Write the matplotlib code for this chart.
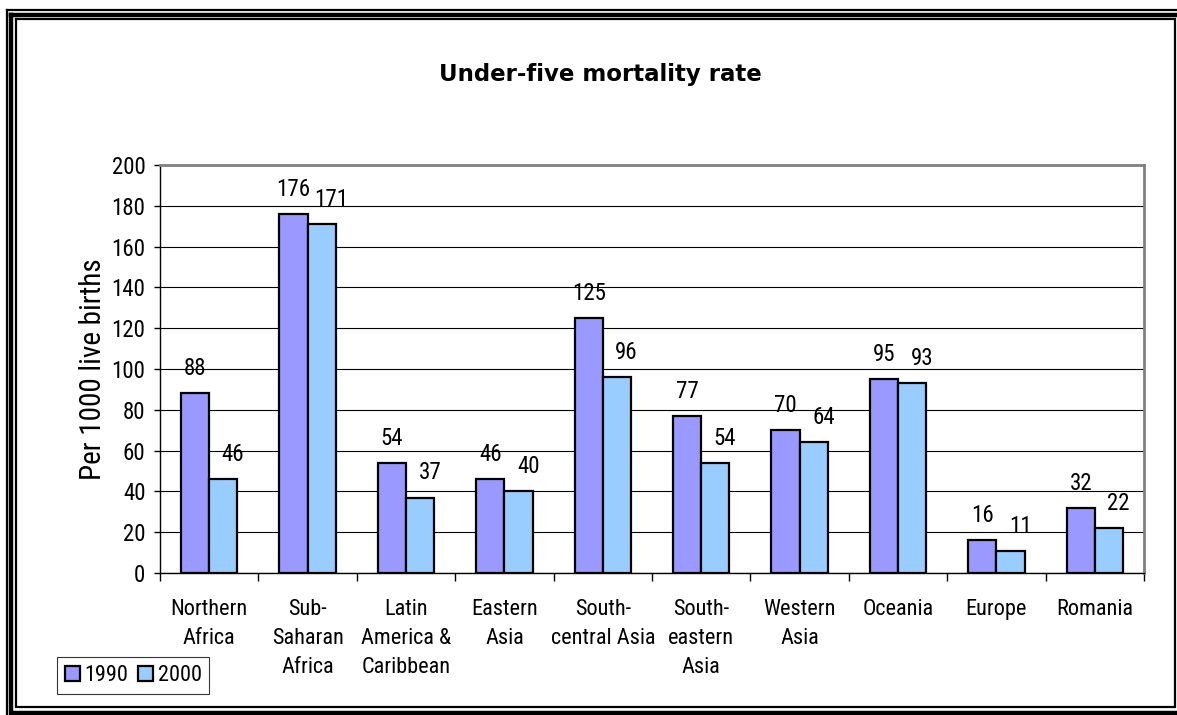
import matplotlib.pyplot as plt
from matplotlib import font_manager
from matplotlib.lines import Line2D
from matplotlib.patches import Patch
import numpy as np

regions = ["Northern\nAfrica", "Sub-\nSaharan\nAfrica", "Latin\nAmerica &\nCaribbean",
           "Eastern\nAsia", "South-\ncentral Asia", "South-\neastern\nAsia",
           "Western\nAsia", "Oceania", "Europe", "Romania"]
rate_1990 = [88, 176, 54, 46, 125, 77, 70, 95, 16, 32]
rate_2000 = [46, 171, 37, 40, 96, 54, 64, 93, 11, 22]
y_ticks = [0, 20, 40, 60, 80, 100, 120, 140, 160, 180, 200]

# narrow sans for the body text, first one that is installed
names = {f.name for f in font_manager.fontManager.ttflist}
narrow = next((n for n in ["Liberation Sans Narrow", "Arial Narrow", "Roboto Condensed",
                           "Archivo Narrow", "PT Sans Narrow"] if n in names), "Liberation Sans")
plt.rcParams['font.family'] = [narrow, 'DejaVu Sans']

W, H = 1177, 715
fig = plt.figure(figsize=(W / 100, H / 100), dpi=100)


def px(x, y):
    return x / W, 1 - y / H


def frame(x0, y0, x1, y1, lw):
    (a, b), (c, d) = px(x0, y0), px(x1, y1)
    fig.add_artist(Line2D([a, c, c, a, a], [b, b, d, d, b], color='black',
                          lw=lw, solid_joinstyle='miter', transform=fig.transFigure))


# triple border round the whole chart
frame(7, 10, 1188, 722, 1.6)
frame(11, 14.5, 1180, 713, 3.2)
frame(16, 19, 1175, 706.5, 1.6)

ax = fig.add_axes([160 / W, 1 - 573 / H, 984 / W, 408 / H])

x = np.arange(len(regions))
bw = 1 / 3.5
ax.bar(x - bw / 2, rate_1990, bw, color='#9999FF', edgecolor='black', lw=1.6, zorder=3, label='1990')
ax.bar(x + bw / 2, rate_2000, bw, color='#99CCFF', edgecolor='black', lw=1.6, zorder=3, label='2000')

for i in range(len(regions)):
    ax.annotate(str(rate_1990[i]), (x[i] - bw / 2, rate_1990[i]), xytext=(0, 13),
                textcoords='offset points', ha='center', va='baseline', fontsize=16.5)
    ax.annotate(str(rate_2000[i]), (x[i] + bw / 2, rate_2000[i]), xytext=(7, 13),
                textcoords='offset points', ha='center', va='baseline', fontsize=16.5)

ax.set_xlim(-0.5, len(regions) - 0.5)
ax.set_ylim(0, 200)
ax.set_yticks(y_ticks)
ax.tick_params(axis='y', labelsize=16.5, length=4.5, width=1, pad=6, direction='out')
ax.yaxis.grid(True, color='black', lw=0.8)
ax.set_axisbelow(True)

ax.set_xticks(x)
ax.set_xticklabels(regions, fontsize=16, linespacing=1.5, va='top')
ax.tick_params(axis='x', which='major', length=0, pad=19)
ax.set_xticks(np.arange(-0.5, len(regions)), minor=True)
ax.tick_params(axis='x', which='minor', length=6, width=1, direction='out')

for side in ['top', 'right']:
    ax.spines[side].set_color('#808080')
    ax.spines[side].set_linewidth(2)
for side in ['left', 'bottom']:
    ax.spines[side].set_color('black')
    ax.spines[side].set_linewidth(1)

ax.set_ylabel('Per 1000 live births', fontsize=21, labelpad=3)

fig.text(600 / W, 1 - 74 / H, 'Under-five mortality rate', ha='center', va='center',
         fontsize=16.5, fontweight='bold', family='DejaVu Sans')

handles = [Patch(facecolor='#9999FF', edgecolor='black', lw=1.6, label='1990'),
           Patch(facecolor='#99CCFF', edgecolor='black', lw=1.6, label='2000')]
leg = fig.legend(handles=handles, loc='lower left', bbox_to_anchor=px(57, 694), ncol=2,
                 fontsize=16, frameon=True, fancybox=False, edgecolor='black',
                 handlelength=0.7, handleheight=0.7, handletextpad=0.2, columnspacing=0.4,
                 borderpad=0.35, borderaxespad=0)
leg.get_frame().set_linewidth(0.8)

fig.savefig('out.png', dpi=100)
